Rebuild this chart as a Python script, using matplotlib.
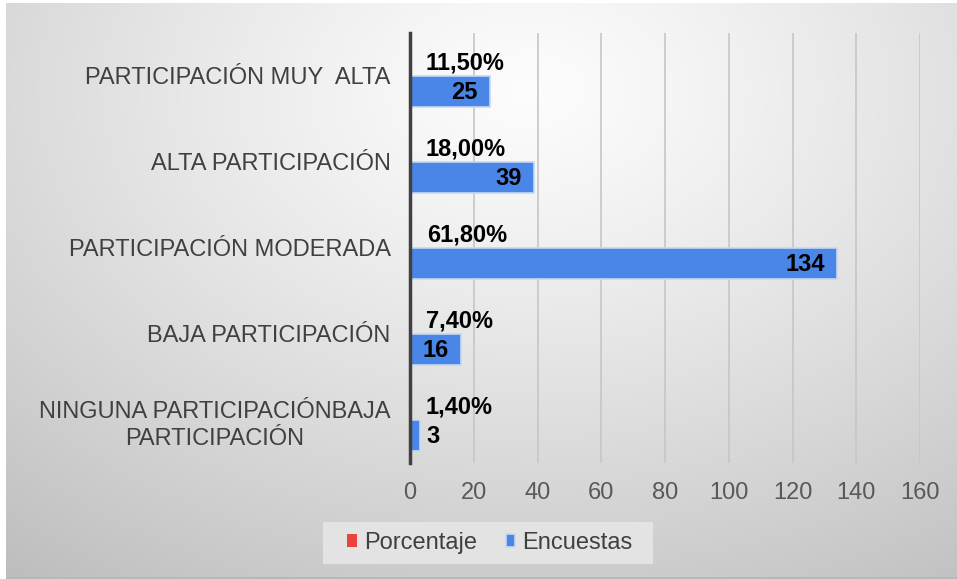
import numpy as np
import matplotlib
matplotlib.use("Agg")
import matplotlib.pyplot as plt
from matplotlib.patches import Rectangle

categories = ["PARTICIPACIÓN MUY  ALTA", "ALTA PARTICIPACIÓN", "PARTICIPACIÓN MODERADA",
              "BAJA PARTICIPACIÓN", "NINGUNA PARTICIPACIÓNBAJA\nPARTICIPACIÓN"]
porcentaje = [11.5, 18.0, 61.8, 7.4, 1.4]   # percent
encuestas = [25, 39, 134, 16, 3]
xticks = [0, 20, 40, 60, 80, 100, 120, 140, 160]

plt.rcParams['font.family'] = ['Liberation Sans', 'DejaVu Sans']

W, H = 957, 579
fig = plt.figure(figsize=(W / 100, H / 100), dpi=100)
fig.patch.set_facecolor('white')

# background gradient panel
bg = fig.add_axes([6 / W, 0, 1 - 6 / W, 1 - 3 / H])
yy, xx = np.mgrid[0:1:300j, 0:1:500j]
d = np.sqrt(((xx - 0.55) / 0.85) ** 2 + ((yy - 0.15) / 1.0) ** 2)
val = 0.99 - 0.23 * np.clip(d, 0, 1.2) ** 1.2
bg.imshow(np.dstack([val, val, val]), aspect='auto', extent=[0, 1, 1, 0], interpolation='bilinear')
bg.set_xlim(0, 1); bg.set_ylim(1, 0)
bg.axis('off')
bg.add_patch(Rectangle((0, 0), 1, 0.004, transform=bg.transAxes, color='#b8b8b8', lw=0))

ax = fig.add_axes([410 / W, 116 / H, 510 / W, 430 / H])
ax.patch.set_alpha(0)
y = np.arange(len(categories))
h = 0.36
red = ax.barh(y - h / 2, [p / 100 for p in porcentaje], height=h, color='#e8453c', label='Porcentaje')
blue = ax.barh(y + h / 2, encuestas, height=h, color='#4a86e8', edgecolor='#c4d8f6', linewidth=1.2,
               label='Encuestas')
ax.set_ylim(len(categories) - 0.5, -0.5)
ax.set_xlim(0, 160)
ax.set_xticks(xticks)
ax.set_yticks(y)
ax.set_yticklabels(categories, fontsize=17, color='#404040', ha='right', linespacing=1.35)
for t in ax.get_yticklabels():
    t.set_multialignment('center')
ax.tick_params(axis='y', length=0, pad=14)
ax.tick_params(axis='x', length=0, pad=14, labelsize=17, labelcolor='#595959')
ax.grid(axis='x', color='#c6c6c6', lw=1.2)
ax.set_axisbelow(True)
for s in ['top', 'right', 'bottom']:
    ax.spines[s].set_visible(False)
ax.spines['left'].set_color('#404040')
ax.spines['left'].set_linewidth(2.5)
ax.spines['left'].set_zorder(5)

for i, p in enumerate(porcentaje):
    ax.annotate(f"{p:.2f}%".replace('.', ','), (p / 100, y[i] - h / 2), xytext=(11, -2),
                textcoords='offset points', ha='left', va='center', fontsize=17,
                fontweight='bold', color='black')
for i, v in enumerate(encuestas):
    if v < 10:
        ax.annotate(str(v), (v, y[i] + h / 2), xytext=(5, -1), textcoords='offset points',
                    ha='left', va='center', fontsize=17, fontweight='bold', color='black')
    else:
        ax.annotate(str(v), (v, y[i] + h / 2), xytext=(-9, -1), textcoords='offset points',
                    ha='right', va='center', fontsize=17, fontweight='bold', color='black')

# legend box
fig.patches.append(Rectangle((323 / W, 1 - 564 / H), 330 / W, 42 / H, transform=fig.transFigure,
                             facecolor='#e3e3e3', edgecolor='none', zorder=1))
leg = fig.legend(handles=[red, blue], labels=['Porcentaje', 'Encuestas'], loc='center',
                 bbox_to_anchor=(490 / W, 1 - 543 / H), ncol=2, frameon=False, fontsize=17,
                 handlelength=0.42, handleheight=0.42, handletextpad=0.3, columnspacing=1.2,
                 borderpad=0.3)
for t in leg.get_texts():
    t.set_color('#404040')

fig.savefig('out.png', dpi=100, facecolor=fig.get_facecolor())
